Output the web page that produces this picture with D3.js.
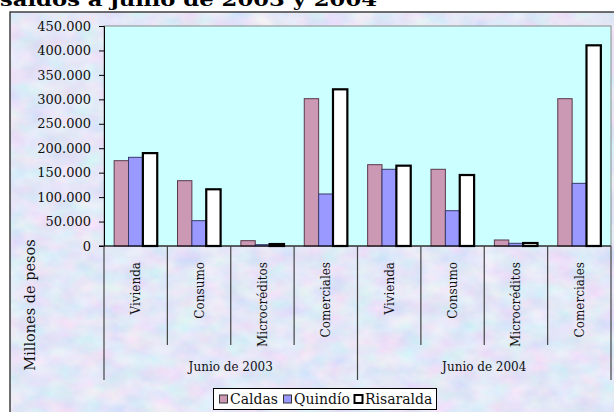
<!doctype html>
<html>
<head>
<meta charset="UTF-8">
<title>saldos</title>
<script src="https://d3js.org/d3.v7.min.js"></script>
<style>
  body { margin: 0; background: #fff; }
  svg { display: block; }
</style>
</head>
<body>
<script>
// data (millones de pesos)
var periods = ["Junio de 2003", "Junio de 2004"];
var categories = ["Vivienda", "Consumo", "Microcréditos", "Comerciales"];
var seriesNames = ["Caldas", "Quindío", "Risaralda"];
var caldas    = [174500, 133600, 10900, 301300, 166300, 156900, 12300, 301300];
var quindio   = [181400,  51800,  2700, 106400, 156900,  72200,  5500, 128200];
var risaralda = [190000, 116000,  4000, 320500, 164300, 145200,  6100, 410500];
var yTicks = [0, 50000, 100000, 150000, 200000, 250000, 300000, 350000, 400000, 450000];

var values = [caldas, quindio, risaralda];
var fills = ["#cc99b4", "#9999ff", "#ffffff"];
var strokes = ["#5a3a4a", "#3a3a6a", "#000000"];
var strokeW = [1, 1, 2.2];

var W = 614, H = 412;
var plotL = 104, plotR = 611, plotT = 26, zero = 246;

var svg = d3.select("body").append("svg").attr("width", W).attr("height", H);

// marbled background texture
var defs = svg.append("defs");
var f = defs.append("filter").attr("id", "marble").attr("x", 0).attr("y", 0).attr("width", 1).attr("height", 1);
f.append("feTurbulence").attr("type", "fractalNoise").attr("baseFrequency", "0.04 0.06").attr("numOctaves", 3).attr("seed", 7);
f.append("feColorMatrix").attr("type", "matrix")
  .attr("values", "0.4 0 0 0 0.57  0 0.28 0 0 0.66  0 0 0.12 0 0.87  0 0 0 0 1");

// title (cut at the top)
svg.append("text")
  .attr("x", 0).attr("y", 6)
  .attr("textLength", 377).attr("lengthAdjust", "spacingAndGlyphs")
  .style("font-family", "DejaVu Serif").style("font-weight", "bold").style("font-size", "19px")
  .text("saldos a junio de 2003 y 2004");

// chart area
svg.append("rect").attr("x", 10).attr("y", 12).attr("width", 620).attr("height", 420)
  .attr("filter", "url(#marble)");
svg.append("rect").attr("x", 10).attr("y", 12).attr("width", 620).attr("height", 420)
  .attr("fill", "none").attr("stroke", "#333").attr("stroke-width", 1.4);

// plot area
svg.append("rect").attr("x", plotL).attr("y", plotT).attr("width", plotR - plotL).attr("height", zero - plotT)
  .attr("fill", "#ccffff").attr("stroke", "#8a8a8a").attr("stroke-width", 1);

var y = d3.scaleLinear().domain([0, 450000]).range([zero, plotT]);
var x = d3.scaleBand().domain(d3.range(8)).range([plotL, plotR]).padding(0);
var bw = x.bandwidth();
var gap = bw * 0.16;
var xs = d3.scaleBand().domain(d3.range(3)).range([gap, bw - gap]).padding(0);

// bars
for (var s = 0; s < 3; s++) {
  svg.append("g").selectAll("rect").data(values[s]).enter().append("rect")
    .attr("x", function(d, i){ return x(i) + xs(s); })
    .attr("y", function(d){ return y(d); })
    .attr("width", xs.bandwidth())
    .attr("height", function(d){ return zero - y(d); })
    .attr("fill", fills[s])
    .attr("stroke", strokes[s])
    .attr("stroke-width", strokeW[s]);
}

// y axis
var fmt = function(d){ return d3.format(",")(d).replace(/,/g, "."); };
var yAxis = svg.append("g").attr("transform", "translate(" + plotL + ",0)")
  .call(d3.axisLeft(y).tickValues(yTicks).tickFormat(fmt).tickSize(5).tickPadding(8));
yAxis.select(".domain").attr("stroke", "#000");
yAxis.selectAll(".tick line").attr("stroke", "#000");
yAxis.selectAll("text").style("font-family", "DejaVu Serif").style("font-size", "13px").attr("fill", "#111");

// baseline
svg.append("line").attr("x1", plotL - 5).attr("x2", plotR).attr("y1", zero).attr("y2", zero)
  .attr("stroke", "#000").attr("stroke-width", 1.2);

// category separators
var seps = d3.range(9);
svg.append("g").selectAll("line").data(seps).enter().append("line")
  .attr("x1", function(d){ return d < 8 ? x(d) : plotR; })
  .attr("x2", function(d){ return d < 8 ? x(d) : plotR; })
  .attr("y1", zero)
  .attr("y2", function(d){ return d % 4 === 0 ? 380 : 345; })
  .attr("stroke", "#444").attr("stroke-width", 1.2);

// category labels
var catLabels = d3.range(8).map(function(i){ return categories[i % 4]; });
svg.append("g").selectAll("text").data(catLabels).enter().append("text")
  .attr("transform", function(d, i){ return "translate(" + (x(i) + bw / 2 + 4.5) + ",262) rotate(-90)"; })
  .attr("text-anchor", "end")
  .style("font-family", "DejaVu Serif").style("font-size", "12px").attr("fill", "#111")
  .text(function(d){ return d; });

// period labels
svg.append("g").selectAll("text").data(periods).enter().append("text")
  .attr("x", function(d, i){ return (x(i * 4) + (i === 1 ? plotR : x(4))) / 2; })
  .attr("y", 371)
  .attr("text-anchor", "middle")
  .style("font-family", "DejaVu Serif").style("font-size", "12px").attr("fill", "#111")
  .text(function(d){ return d; });

// y title
svg.append("text")
  .attr("transform", "translate(35,305) rotate(-90)")
  .attr("text-anchor", "middle")
  .style("font-family", "DejaVu Serif").style("font-size", "14.5px").attr("fill", "#111")
  .text("Millones de pesos");

// legend
var lg = svg.append("g");
lg.append("rect").attr("x", 213.5).attr("y", 388.5).attr("width", 223).attr("height", 21)
  .attr("fill", "#fff").attr("stroke", "#000").attr("stroke-width", 1);
var lx = [219, 283, 354];
var item = lg.selectAll("g").data(seriesNames).enter().append("g")
  .attr("transform", function(d, i){ return "translate(" + lx[i] + ",0)"; });
item.append("rect").attr("x", 0.5).attr("y", 395).attr("width", 8).attr("height", 8)
  .attr("fill", function(d, i){ return fills[i]; })
  .attr("stroke", function(d, i){ return i === 2 ? "#000" : "#333"; })
  .attr("stroke-width", function(d, i){ return i === 2 ? 2 : 1; });
item.append("text").attr("x", 11).attr("y", 404)
  .style("font-family", "DejaVu Serif").style("font-size", "14px").attr("fill", "#111")
  .text(function(d){ return d; });
</script>
</body>
</html>
